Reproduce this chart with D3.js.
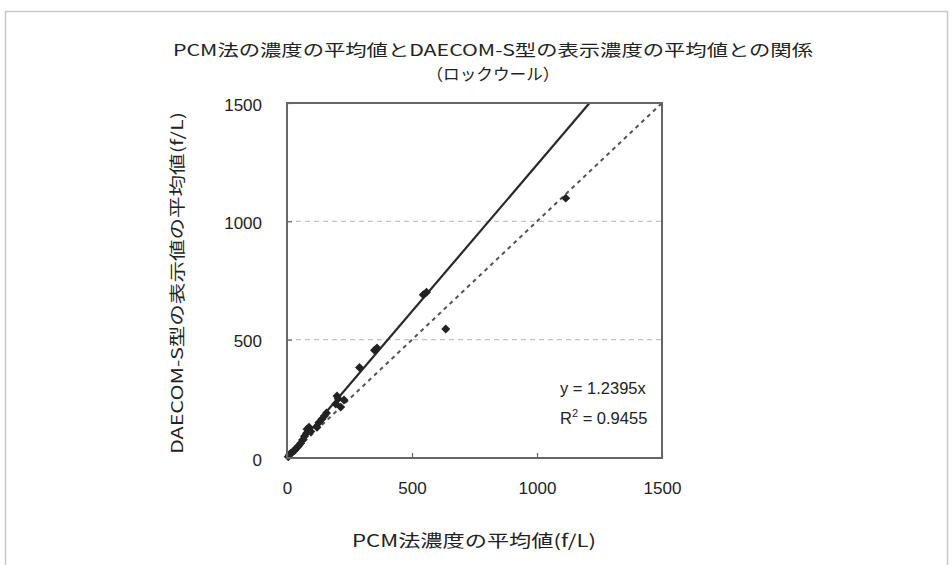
<!DOCTYPE html>
<html><head><meta charset="utf-8">
<script src="https://cdn.jsdelivr.net/npm/d3@7"></script>
<style>
html,body{margin:0;padding:0;background:#fff;}
text{font-family:"Noto Sans CJK JP","Liberation Sans",sans-serif;fill:#222;}
</style></head>
<body>
<svg id="c" width="952" height="565"></svg>
<script>
// Data
const pcmValues   = [5, 10, 15, 22, 30, 38, 45, 55, 62, 70, 78, 80, 88, 95, 120, 128, 140, 150, 158, 195, 200, 205, 228, 215, 290, 350, 360, 545, 558, 635, 1115];
const daecomValues= [5, 14, 20, 25, 32, 42, 50, 62, 76, 92, 105, 122, 130, 112, 130, 150, 165, 178, 190, 228, 262, 250, 245, 215, 382, 455, 465, 690, 700, 545, 1098];
const xTicks = [0, 500, 1000, 1500];
const yTicks = [0, 500, 1000, 1500];
const gridValues = [500, 1000];
const trendSlope = 1.2395;
const r2 = 0.9455;
const titleLines = ["PCM法の濃度の平均値とDAECOM-S型の表示濃度の平均値との関係", "（ロックウール）"];
const xLabel = "PCM法濃度の平均値(f/L)";
const yLabel = "DAECOM-S型の表示値の平均値(f/L)";

const svg = d3.select("#c");
// outer chart frame
svg.append("rect").attr("x",5.5).attr("y",11.5).attr("width",942).attr("height",560)
  .attr("fill","none").attr("stroke","#c8c8c8").attr("stroke-width",1.5);

const L=287, R=662, T=103, B=458;
const x = d3.scaleLinear().domain([0,1500]).range([L,R]);
const y = d3.scaleLinear().domain([0,1500]).range([B,T]);

// gridlines
svg.append("g").selectAll("line").data(gridValues).join("line")
  .attr("x1",L).attr("x2",R).attr("y1",d=>y(d)).attr("y2",d=>y(d))
  .attr("stroke","#c4c4c4").attr("stroke-width",1.2).attr("stroke-dasharray","5,4");

svg.append("clipPath").attr("id","pc").append("rect")
  .attr("x",L).attr("y",T).attr("width",R-L).attr("height",B-T);

// y = x dashed line
svg.append("line").attr("clip-path","url(#pc)")
  .attr("x1",x(0)).attr("y1",y(0)).attr("x2",x(1500)).attr("y2",y(1500))
  .attr("stroke","#555").attr("stroke-width",2).attr("stroke-dasharray","4,4");

// trend line
svg.append("line").attr("clip-path","url(#pc)")
  .attr("x1",x(0)).attr("y1",y(0)).attr("x2",x(1500/trendSlope)).attr("y2",y(1500))
  .attr("stroke","#2a2a2a").attr("stroke-width",2.2);

// points
const sym = d3.symbol().type(d3.symbolSquare).size(40);
svg.append("g").selectAll("path").data(pcmValues.map((v,i)=>[v,daecomValues[i]])).join("path")
  .attr("d",sym).attr("transform",d=>`translate(${x(d[0])},${y(d[1])}) rotate(45)`)
  .attr("fill","#222");

// frame
svg.append("rect").attr("x",L).attr("y",T).attr("width",R-L).attr("height",B-T)
  .attr("fill","none").attr("stroke","#666").attr("stroke-width",2);

// axes
const xa = svg.append("g").attr("transform",`translate(0,${B})`)
  .call(d3.axisBottom(x).tickValues(xTicks).tickSize(-5).tickPadding(24).tickFormat(d3.format("d")));
const ya = svg.append("g").attr("transform",`translate(${L},0)`)
  .call(d3.axisLeft(y).tickValues(yTicks).tickSize(-5).tickPadding(25).tickFormat(d3.format("d")));
[xa,ya].forEach(a=>{
  a.select(".domain").remove();
  a.selectAll(".tick line").attr("stroke","#666").attr("stroke-width",1.2);
  a.selectAll(".tick text").attr("font-size",17).attr("fill","#222")
   .style("font-family","'Liberation Sans',Arial,sans-serif");
});
ya.selectAll(".tick text").attr("dy","0.42em");

// title
svg.append("text").attr("x",493).attr("y",56).attr("text-anchor","middle").attr("font-size",16)
  .attr("textLength",640).attr("lengthAdjust","spacingAndGlyphs").text(titleLines[0]);
svg.append("text").attr("x",493).attr("y",80).attr("text-anchor","middle").attr("font-size",16)
  .attr("textLength",133).attr("lengthAdjust","spacingAndGlyphs").text(titleLines[1]);

// axis labels
svg.append("text").attr("x",474).attr("y",547).attr("text-anchor","middle").attr("font-size",17)
  .attr("textLength",244).attr("lengthAdjust","spacingAndGlyphs").text(xLabel);
svg.append("text").attr("transform","translate(183,283) rotate(-90)").attr("text-anchor","middle").attr("font-size",16)
  .attr("textLength",342).attr("lengthAdjust","spacingAndGlyphs").text(yLabel);

// equation
const ff = "'Liberation Sans',Arial,sans-serif";
svg.append("text").attr("x",560).attr("y",394).attr("font-size",16.5).style("font-family",ff).text(`y = ${trendSlope}x`);
const r = svg.append("text").attr("x",560).attr("y",424).attr("font-size",16.5).style("font-family",ff);
r.append("tspan").text("R");
r.append("tspan").attr("dy",-7).attr("font-size",11).text("2");
r.append("tspan").attr("dy",7).text(` = ${r2}`);
</script>
</body></html>
